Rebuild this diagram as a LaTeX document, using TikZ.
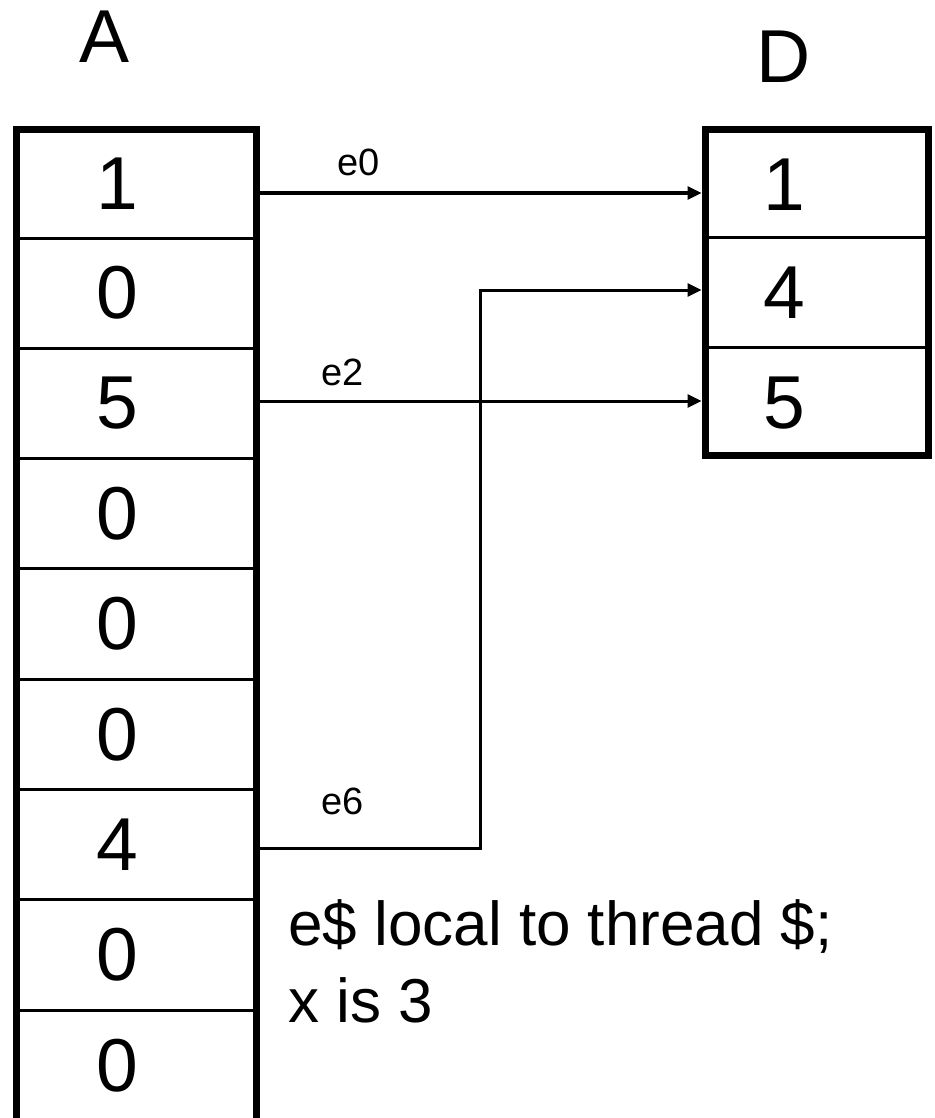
\documentclass[tikz,border=0pt]{standalone}
\usepackage{fontspec}
\setmainfont{Liberation Sans}
\usetikzlibrary{arrows.meta}
\tikzset{
 frame/.style={draw, line width=7pt, inner sep=0pt, outer sep=0pt, rectangle},
 cell/.style={draw, line width=3pt, inner sep=0pt, outer sep=3.5pt, rectangle},
 acell/.style={cell, minimum width=240pt, minimum height=110.3pt},
 dcell/.style={cell, minimum width=223pt},
 digit/.style={inner sep=0pt, font=\fontsize{75}{90}\selectfont},
 lbl/.style={inner sep=0pt, font=\fontsize{38}{46}\selectfont},
 note/.style={inner sep=0pt, anchor=base west, font=\fontsize{62}{77}\selectfont},
 conn/.style={line width=3pt, line join=miter, -{Triangle[length=14pt,width=13pt]}},
}
\begin{document}
\begin{tikzpicture}[x=1pt,y=-1pt]
\useasboundingbox (0,0) rectangle (934,1118);
% array A cells
\node[acell, minimum height=108pt] (a0) at (136.5,184) {};
\foreach \i in {1,...,7} {
  \node[acell] (a\i) at (136.5,{238+110.3*(\i-0.5)}) {};
}
\node[acell, minimum height=119.9pt] (a8) at (136.5,1070.05) {};
\node[frame, minimum width=240pt, minimum height=1000pt] (A) at (136.5,630) {};
% array A values
\node[digit] (va0) at (117,184) {1};
\node[digit] (va1) at (117,293.15) {0};
\node[digit] (va2) at (117,403.45) {5};
\node[digit] (va3) at (117,513.75) {0};
\node[digit] (va4) at (117,624.05) {0};
\node[digit] (va5) at (117,734.35) {0};
\node[digit] (va6) at (117,844.65) {4};
\node[digit] (va7) at (117,954.95) {0};
\node[digit] (va8) at (117,1065.25) {0};
% array D
\node[dcell, minimum height=107pt] (d0) at (816.5,183.5) {};
\node[dcell, minimum height=110pt] (d1) at (816.5,292) {};
\node[dcell, minimum height=108pt] (d2) at (816.5,401) {};
\node[frame, minimum width=223pt, minimum height=325pt] (D) at (816.5,292.5) {};
\node[digit] (vd0) at (784,185) {1};
\node[digit] (vd1) at (784,292.5) {4};
\node[digit] (vd2) at (784,403.5) {5};
% titles
\node[digit] (tA) at (105,36.5) {A};
\node[digit] (tD) at (784,56.5) {D};
% connectors
\coordinate (bend) at (480,290);
\draw[conn] (a0.east |- 0,193) -- (d0.west |- 0,193);
\draw[conn] (a2.east |- 0,401) -- (d2.west |- 0,401);
\draw[conn] (a6.east |- 0,848) -| (bend) -- (d1.west |- bend);
% labels
\node[lbl] (e0) at (359,162) {e0};
\node[lbl] (e2) at (343,372) {e2};
\node[lbl] (e6) at (343,801) {e6};
% note
\node[note] (n1) at (288,945) {e\$ local to thread \$;};
\node[note] (n2) at (288,1022) {x is 3};
\end{tikzpicture}
\end{document}
